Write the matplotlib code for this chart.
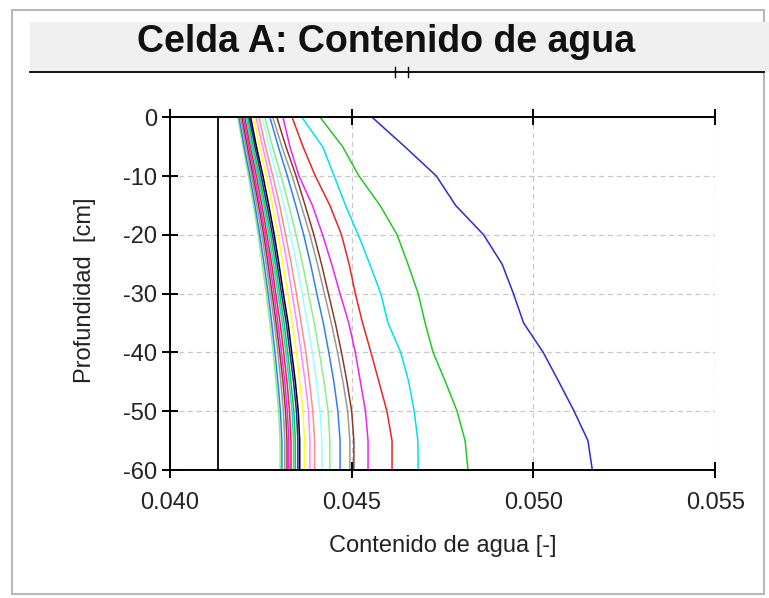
import numpy as np
import matplotlib.pyplot as plt
from matplotlib.patches import Rectangle
from matplotlib.lines import Line2D

plt.rcParams['font.family'] = ['Liberation Sans', 'DejaVu Sans']
plt.rcParams['axes.unicode_minus'] = False

# depth of the profile nodes [cm]
depth = [0, -5, -10, -15, -20, -25, -30, -35, -40, -45, -50, -55, -60]

# water content profiles, first print time at the right, later ones to the left
profiles = [
    [0.04556, 0.04646, 0.04733, 0.04786, 0.04863, 0.04914, 0.04945, 0.04973, 0.05027, 0.05070, 0.05112, 0.05150, 0.05162],
    [0.04413, 0.04475, 0.04520, 0.04578, 0.04625, 0.04655, 0.04683, 0.04702, 0.04724, 0.04758, 0.04790, 0.04812, 0.04820],
    [0.04363, 0.04420, 0.04452, 0.04483, 0.04518, 0.04550, 0.04580, 0.04600, 0.04635, 0.04657, 0.04672, 0.04682, 0.04683],
    [0.04336, 0.04366, 0.04400, 0.04440, 0.04472, 0.04493, 0.04510, 0.04530, 0.04553, 0.04575, 0.04597, 0.04611, 0.04611],
    [0.04311, 0.04330, 0.04355, 0.04392, 0.04420, 0.04445, 0.04468, 0.04492, 0.04510, 0.04524, 0.04538, 0.04545, 0.04545],
    [0.04294, 0.04319, 0.04347, 0.04372, 0.04396, 0.04417, 0.04436, 0.04455, 0.04472, 0.04487, 0.04500, 0.04506, 0.04506],
    [0.04283, 0.04308, 0.04336, 0.04361, 0.04385, 0.04406, 0.04425, 0.04444, 0.04461, 0.04476, 0.04489, 0.04495, 0.04495],
    [0.04275, 0.04298, 0.04323, 0.04346, 0.04368, 0.04387, 0.04404, 0.04422, 0.04437, 0.04451, 0.04462, 0.04468, 0.04468],
    [0.04261, 0.04282, 0.04306, 0.04327, 0.04347, 0.04365, 0.04381, 0.04397, 0.04411, 0.04424, 0.04435, 0.04440, 0.04440],
    [0.04253, 0.04273, 0.04294, 0.04314, 0.04332, 0.04349, 0.04364, 0.04378, 0.04392, 0.04403, 0.04413, 0.04418, 0.04418],
    [0.04245, 0.04263, 0.04283, 0.04302, 0.04318, 0.04334, 0.04348, 0.04361, 0.04374, 0.04384, 0.04393, 0.04398, 0.04398],
    [0.04237, 0.04255, 0.04274, 0.04292, 0.04308, 0.04323, 0.04336, 0.04349, 0.04361, 0.04372, 0.04381, 0.04385, 0.04385],
    [0.04230, 0.04247, 0.04265, 0.04282, 0.04297, 0.04311, 0.04324, 0.04336, 0.04348, 0.04357, 0.04366, 0.04370, 0.04370],
    [0.04222, 0.04238, 0.04256, 0.04272, 0.04287, 0.04300, 0.04312, 0.04325, 0.04335, 0.04345, 0.04353, 0.04357, 0.04357],
    [0.04218, 0.04234, 0.04251, 0.04267, 0.04282, 0.04295, 0.04307, 0.04320, 0.04330, 0.04340, 0.04348, 0.04352, 0.04352],
    [0.04214, 0.04229, 0.04246, 0.04262, 0.04277, 0.04290, 0.04302, 0.04314, 0.04324, 0.04333, 0.04341, 0.04345, 0.04345],
    [0.04210, 0.04225, 0.04242, 0.04258, 0.04272, 0.04285, 0.04297, 0.04309, 0.04319, 0.04328, 0.04336, 0.04340, 0.04340],
    [0.04206, 0.04221, 0.04238, 0.04253, 0.04267, 0.04280, 0.04291, 0.04303, 0.04313, 0.04322, 0.04329, 0.04333, 0.04333],
    [0.04202, 0.04217, 0.04233, 0.04248, 0.04262, 0.04275, 0.04286, 0.04297, 0.04307, 0.04316, 0.04323, 0.04327, 0.04327],
    [0.04198, 0.04213, 0.04229, 0.04244, 0.04258, 0.04270, 0.04281, 0.04292, 0.04302, 0.04311, 0.04318, 0.04322, 0.04322],
    [0.04194, 0.04209, 0.04225, 0.04239, 0.04253, 0.04265, 0.04276, 0.04287, 0.04297, 0.04305, 0.04312, 0.04316, 0.04316],
    [0.04190, 0.04204, 0.04220, 0.04234, 0.04247, 0.04259, 0.04270, 0.04280, 0.04289, 0.04297, 0.04304, 0.04308, 0.04308],
    [0.04187, 0.04201, 0.04216, 0.04230, 0.04243, 0.04254, 0.04265, 0.04275, 0.04284, 0.04292, 0.04299, 0.04303, 0.04303],
]
colors = ['#2a2ad8', '#22c822', '#00e0ee', '#ee2222', '#ee22ee', '#8b3a2a', '#999999',
          '#2f80ed', '#88ee88', '#99ffff', '#ff8c8c', '#ff88ff', '#ffff22',
          '#000000', '#2020c0', '#22c822', '#00e0ee', '#ee2222', '#ee22ee', '#8b3a2a',
          '#999999', '#2f80ed', '#88ee88']
# initial condition (vertical line)
initial = [0.04132, 0.04132]
initial_depth = [0, -60]

xticks = [0.040, 0.045, 0.050, 0.055]
xticklabels = ['0.040', '0.045', '0.050', '0.055']
yticks = [0, -10, -20, -30, -40, -50, -60]

fig = plt.figure(figsize=(7.69, 5.98), dpi=100)
fig.patch.set_facecolor('white')

# frame + title band
fig.patches.append(Rectangle((0.016, 0.006), 0.978, 0.978, transform=fig.transFigure,
                             facecolor='none', edgecolor='#b8b8b8', lw=1.5))
fig.patches.append(Rectangle((0.039, 0.880), 0.961, 0.083, transform=fig.transFigure,
                             facecolor='#f0f0f0', edgecolor='none'))
fig.lines.append(Line2D([0.039, 0.993], [0.880, 0.880], transform=fig.transFigure, color='black', lw=1.3))
for xx in [0.514, 0.530]:
    fig.lines.append(Line2D([xx, xx], [0.872, 0.888], transform=fig.transFigure, color='black', lw=1))
fig.text(0.502, 0.930, 'Celda A: Contenido de agua', ha='center', va='center',
         fontsize=27, fontweight='bold', color='#111111')

ax = fig.add_axes([0.221, 0.214, 0.709, 0.590])
ax.plot(initial, initial_depth, color='black', lw=1.3)
for prof, col in zip(profiles[::-1], colors[::-1]):
    ax.plot(prof, depth, color=col, lw=1.1)

ax.set_xlim(0.040, 0.055)
ax.set_ylim(-60, 0)
ax.set_xticks(xticks)
ax.set_xticklabels(xticklabels)
ax.set_yticks(yticks)
ax.grid(True, ls=(0, (4, 3)), color='#c8c8c8', lw=0.9)
ax.spines['right'].set_visible(False)
for s in ['left', 'bottom', 'top']:
    ax.spines[s].set_linewidth(1.4)
ax.tick_params(axis='both', direction='inout', length=11, width=1.4, labelsize=17,
               colors='black', labelcolor='#222222')
ax.tick_params(axis='x', top=True, pad=10)
ax.tick_params(axis='y', right=False, pad=4)

ax.set_xlabel('Contenido de agua [-]', fontsize=17, color='#222222')
ax.set_ylabel('Profundidad  [cm]', fontsize=17, color='#222222')
ax.xaxis.set_label_coords(0.50, -0.185)
ax.yaxis.set_label_coords(-0.135, 0.51)

fig.savefig('out.png', dpi=100)
